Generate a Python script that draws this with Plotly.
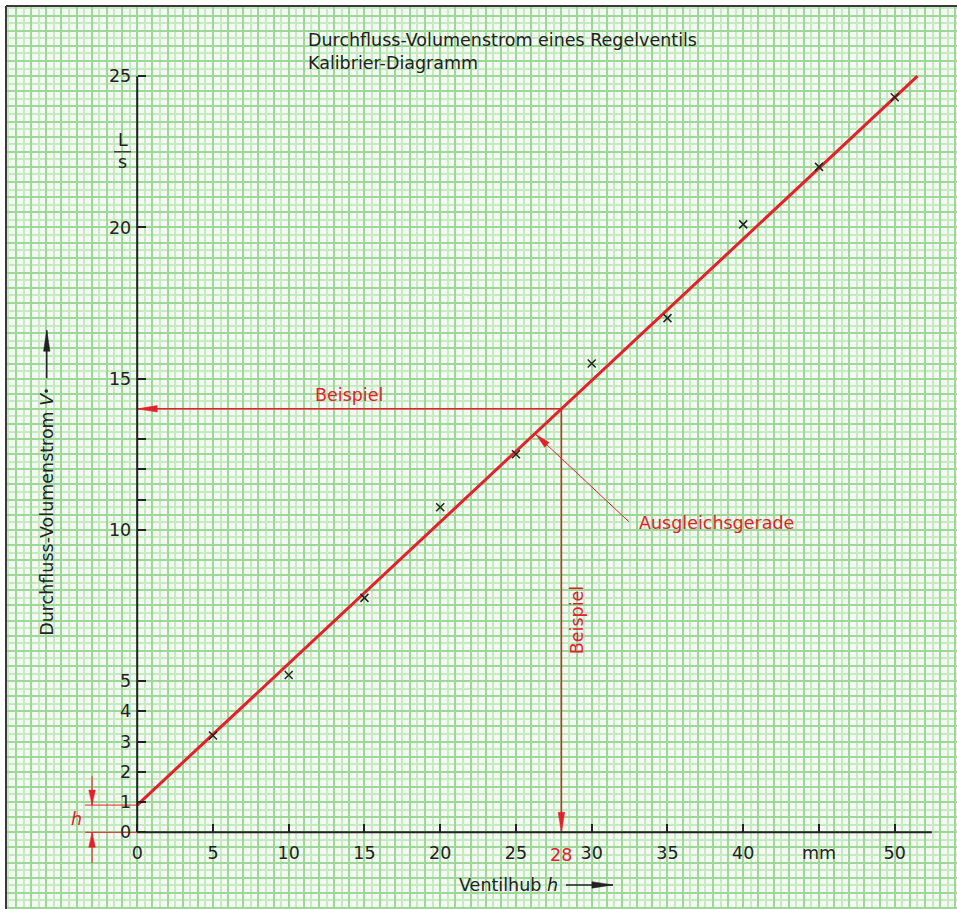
import numpy as np
import plotly.graph_objects as go

# ---------------- data ----------------
hub_mm = [5, 10, 15, 20, 25, 30, 35, 40, 45, 50]
flow_ls = [3.2, 5.2, 7.75, 10.75, 12.5, 15.5, 17.0, 20.1, 22.0, 24.3]
fit_h = [0, 51.5]
fit_v = [0.9, 25.0]
example_h = 28
example_v = 14.0
x_tickvals = [0, 5, 10, 15, 20, 25, 30, 35, 40, 45, 50]
x_ticktext = ["0", "5", "10", "15", "20", "25", "30", "35", "40", "mm", "50"]
y_tickvals = [0, 1, 2, 3, 4, 5, 10, 11, 12, 13, 15, 20, 25]
y_ticktext = ["0", "1", "2", "3", "4", "5", "10", "", "", "", "15", "20", "25"]

# ---------------- layout constants ----------------
W, H = 957, 909
ML, MT = 6, 6
X_RANGE = [-8.66, 54.11]
Y_RANGE = [-2.536, 27.32]
PW, PH = W - ML, H - MT
SX = PW / (X_RANGE[1] - X_RANGE[0])
SY = PH / (Y_RANGE[1] - Y_RANGE[0])

RED = "#e4212b"
INK = "#222222"
BG = "#f3faf2"
GRID_MAJOR = "#9ed899"
GRID_MINOR = "#c7eac2"
FONT = "DejaVu Sans"
FS = 17.5

fig = go.Figure()


def head(tail, tip, L, Wd):
    ux = (tip[0] - tail[0]) * SX
    uy = (tip[1] - tail[1]) * SY
    n = np.hypot(ux, uy)
    ux, uy = ux / n, uy / n
    bx = tip[0] * SX - ux * L
    by = tip[1] * SY - uy * L
    nx, ny = -uy, ux
    xs = [tip[0], (bx + nx * Wd / 2) / SX, (bx - nx * Wd / 2) / SX, tip[0]]
    ys = [tip[1], (by + ny * Wd / 2) / SY, (by - ny * Wd / 2) / SY, tip[1]]
    return xs, ys


def arrow(tail, tip, color, width, L, Wd):
    fig.add_trace(go.Scatter(x=[tail[0], tip[0]], y=[tail[1], tip[1]], mode="lines",
                             line=dict(color=color, width=width), hoverinfo="skip"))
    hx, hy = head(tail, tip, L, Wd)
    fig.add_trace(go.Scatter(x=hx, y=hy, mode="lines", fill="toself", fillcolor=color,
                             line=dict(color=color, width=0.5), hoverinfo="skip"))


# invisible traces so the labelled overlay axes are drawn
fig.add_trace(go.Scatter(x=[0], y=[0], xaxis="x2", yaxis="y", mode="markers",
                         marker=dict(opacity=0), hoverinfo="skip"))
fig.add_trace(go.Scatter(x=[0], y=[0], xaxis="x", yaxis="y2", mode="markers",
                         marker=dict(opacity=0), hoverinfo="skip"))

# h offset marking
h_left = -3.44
for yv in [0, fit_v[0]]:
    fig.add_trace(go.Scatter(x=[h_left, 0], y=[yv, yv], mode="lines",
                             line=dict(color=RED, width=1), hoverinfo="skip"))
arrow((-2.98, 1.85), (-2.98, fit_v[0]), RED, 1, 15, 6.5)
arrow((-2.98, -1.02), (-2.98, 0), RED, 1, 15, 6.5)

# Beispiel lines
arrow((example_h, example_v), (0, example_v), RED, 1.5, 20, 6.5)
arrow((example_h, example_v), (example_h, 0), RED, 1.5, 20, 6.5)

# fit line
fig.add_trace(go.Scatter(x=fit_h, y=fit_v, mode="lines",
                         line=dict(color=RED, width=3), hoverinfo="skip"))

# measured points
fig.add_trace(go.Scatter(x=hub_mm, y=flow_ls, mode="markers",
                         marker=dict(symbol="x-thin", size=8, color=INK,
                                     line=dict(color=INK, width=1.5))))

# Ausgleichsgerade pointer
arrow((32.47, 10.26), (26.32, 13.15), RED, 1, 15, 6.5)

# axis title arrows
arrow((28.3, -1.74), (31.4, -1.74), INK, 1.5, 21, 6.5)
arrow((-5.97, 15.01), (-5.97, 16.6), INK, 1.5, 21, 6.5)

# dot over V (volume flow symbol)
fig.add_trace(go.Scatter(x=[-6.0], y=[14.59], mode="markers",
                         marker=dict(size=3.5, color=INK), hoverinfo="skip"))

# axis lines
fig.add_shape(type="line", x0=0, y0=0, x1=52.45, y1=0, line=dict(color=INK, width=2))
fig.add_shape(type="line", x0=0, y0=0, x1=0, y1=25, line=dict(color=INK, width=2))
fig.add_shape(type="line", x0=-1.53, y0=22.5, x1=-0.41, y1=22.5, line=dict(color=INK, width=1.2))

# page border (left, top)
fig.add_shape(type="line", xref="paper", yref="paper", x0=0, y0=0, x1=0, y1=1,
              line=dict(color="#3a3a3a", width=2))
fig.add_shape(type="line", xref="paper", yref="paper", x0=0, y0=1, x1=1, y1=1,
              line=dict(color="#3a3a3a", width=2))


def txt(x, y, s, color=INK, size=FS, xanchor="center", angle=0):
    fig.add_annotation(x=x, y=y, text=s, showarrow=False, xanchor=xanchor, yanchor="middle",
                       textangle=angle, font=dict(family=FONT, size=size, color=color))


txt(11.14, 26.2, "Durchfluss-Volumenstrom eines Regelventils", xanchor="left")
txt(11.14, 25.43, "Kalibrier-Diagramm", xanchor="left")
txt(-0.957, 22.89, "L")
txt(-0.957, 22.17, "s")
txt(14.0, 14.47, "Beispiel", color=RED)
txt(29.04, 7.02, "Beispiel", color=RED, angle=-90)
txt(32.99, 10.23, "Ausgleichsgerade", color=RED, xanchor="left")
txt(example_h, -0.734, str(example_h), color=RED)
txt(-3.99, 0.44, "<i>h</i>", color=RED)
txt(24.5, -1.74, "Ventilhub <i>h</i>")
txt(-5.95, 10.5, "Durchfluss-Volumenstrom <i>V</i>", angle=-90)

axis_common = dict(showgrid=False, zeroline=False, showline=False, fixedrange=True,
                   automargin=False, tickmode="array", ticks="inside", ticklen=8,
                   tickwidth=1.5, tickcolor=INK,
                   tickfont=dict(family=FONT, size=FS, color=INK))

fig.update_layout(
    template="none",
    width=W, height=H,
    margin=dict(l=ML, r=0, t=MT, b=0, pad=0, autoexpand=False),
    paper_bgcolor="white", plot_bgcolor=BG, showlegend=False,
    font=dict(family=FONT, size=FS, color=INK),
    xaxis=dict(range=X_RANGE, showgrid=True, tick0=0, dtick=1, gridcolor=GRID_MAJOR, gridwidth=1.5,
               minor=dict(tick0=0, dtick=0.5, showgrid=True, gridcolor=GRID_MINOR, gridwidth=1.5),
               showticklabels=False, ticks="", zeroline=False, showline=False, fixedrange=True,
               automargin=False),
    yaxis=dict(range=Y_RANGE, showgrid=True, tick0=0, dtick=0.5, gridcolor=GRID_MAJOR, gridwidth=1.5,
               minor=dict(tick0=0, dtick=0.25, showgrid=True, gridcolor=GRID_MINOR, gridwidth=1.5),
               showticklabels=False, ticks="", zeroline=False, showline=False, fixedrange=True,
               automargin=False),
    xaxis2=dict(overlaying="x", range=X_RANGE, anchor="free",
                position=(0 - Y_RANGE[0]) / (Y_RANGE[1] - Y_RANGE[0]),
                tickvals=x_tickvals, ticktext=x_ticktext, ticklabelstandoff=8, **axis_common),
    yaxis2=dict(overlaying="y", range=Y_RANGE, anchor="free", side="left",
                position=(0 - X_RANGE[0]) / (X_RANGE[1] - X_RANGE[0]),
                tickvals=y_tickvals, ticktext=y_ticktext, ticklabelstandoff=6, **axis_common),
)

fig.write_html(
    "out.html",
    config={"displayModeBar": False},
    post_script="document.documentElement.style.margin='0';document.body.style.margin='0';"
                "document.body.style.padding='0';document.body.style.overflow='hidden';",
)
